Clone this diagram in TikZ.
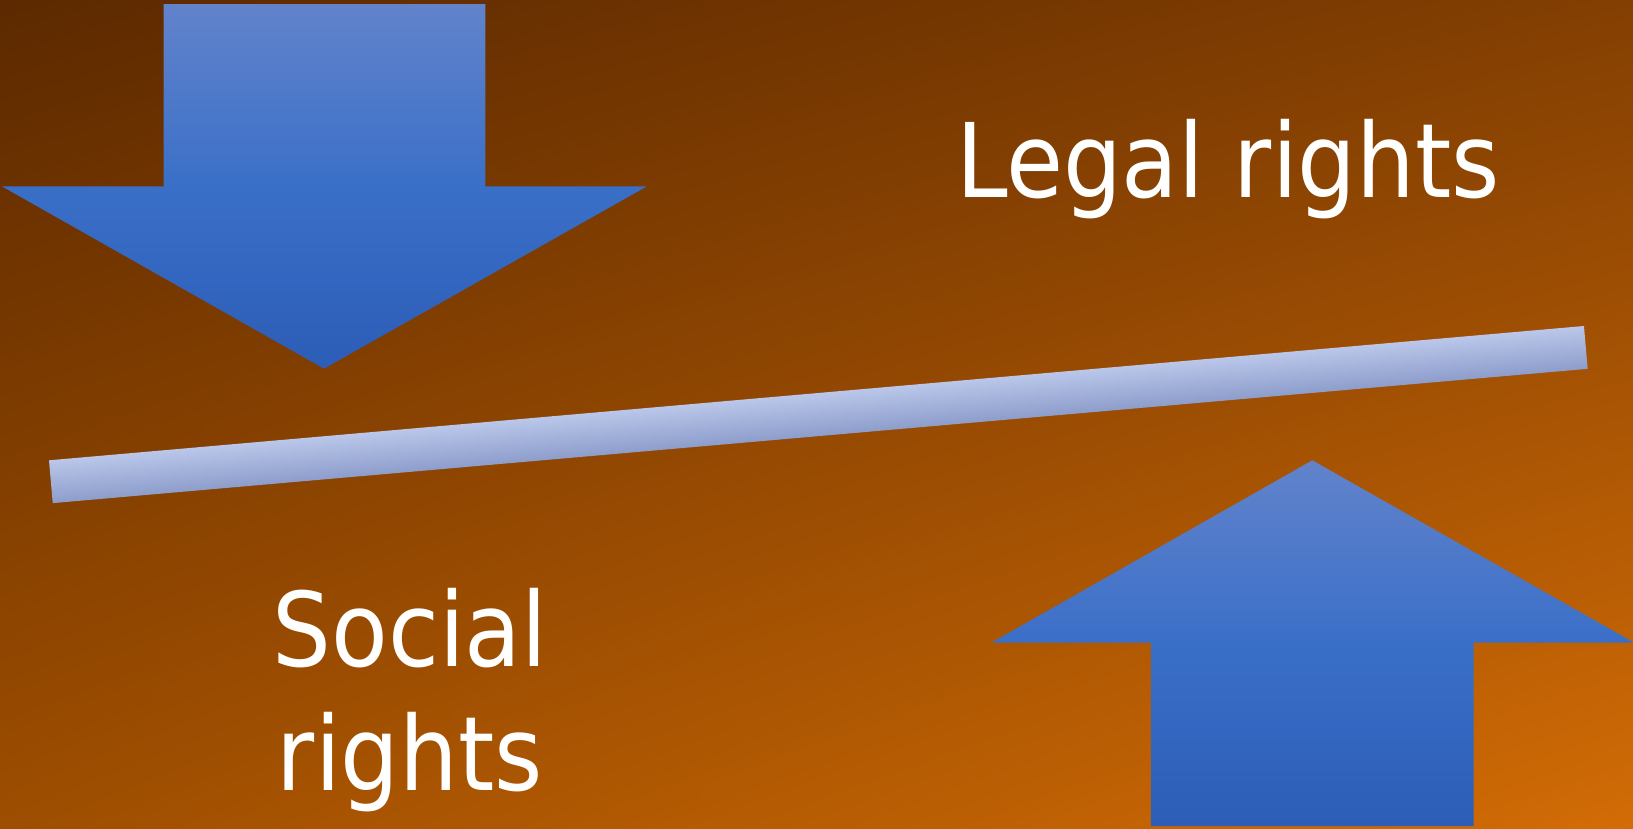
\documentclass[tikz,border=0pt]{standalone}
\usepackage{fontspec}
\usetikzlibrary{shadings}
\setmainfont{DejaVu Sans}[FakeStretch=0.9]
\definecolor{bgTL}{HTML}{5C2900}
\definecolor{bgTR}{HTML}{833F02}
\definecolor{bgBL}{HTML}{9E4E00}
\definecolor{bgBR}{HTML}{D26C06}
\definecolor{arrTop}{HTML}{6283CB}
\definecolor{arrMid}{HTML}{3A6FC8}
\definecolor{arrBot}{HTML}{2C5DB7}
\definecolor{beamTop}{HTML}{BAC7EA}
\definecolor{beamBot}{HTML}{8D9DCB}
\tikzset{
  bigarrow/.style={top color=arrTop, bottom color=arrBot, middle color=arrMid},
  label/.style={text=white, font=\fontsize{103}{124}\selectfont, inner sep=0pt, align=center}
}
\begin{document}
\begin{tikzpicture}[x=1pt,y=-1pt]
\useasboundingbox (0,0) rectangle (1633,829);
\shade[upper left=bgTL, upper right=bgTR, lower left=bgBL, lower right=bgBR] (0,0) rectangle (1633,829);
% down arrow
\shade[bigarrow] (163.5,4.2) -- (485.3,4.2) -- (485.3,186.4) -- (646.8,186.4) -- (324,368.7) -- (2,186.4) -- (163.5,186.4) -- cycle;
% up arrow
\shade[bigarrow] (1312.3,460.3) -- (1634,642.6) -- (1473.7,642.6) -- (1473.7,826) -- (1150.9,826) -- (1150.9,642.6) -- (991.5,642.6) -- cycle;
% beam
\begin{scope}[transform canvas={shift={(49,460.3)}, rotate=5.0}]
\shade[top color=beamTop, bottom color=beamBot] (0,0) rectangle (1540.8,43);
\end{scope}
\node[label, anchor=base] (legal) at (1228,198) {Legal rights};
\node[label, anchor=base] (social) at (410,790.5) {Social\\rights};
\end{tikzpicture}
\end{document}
